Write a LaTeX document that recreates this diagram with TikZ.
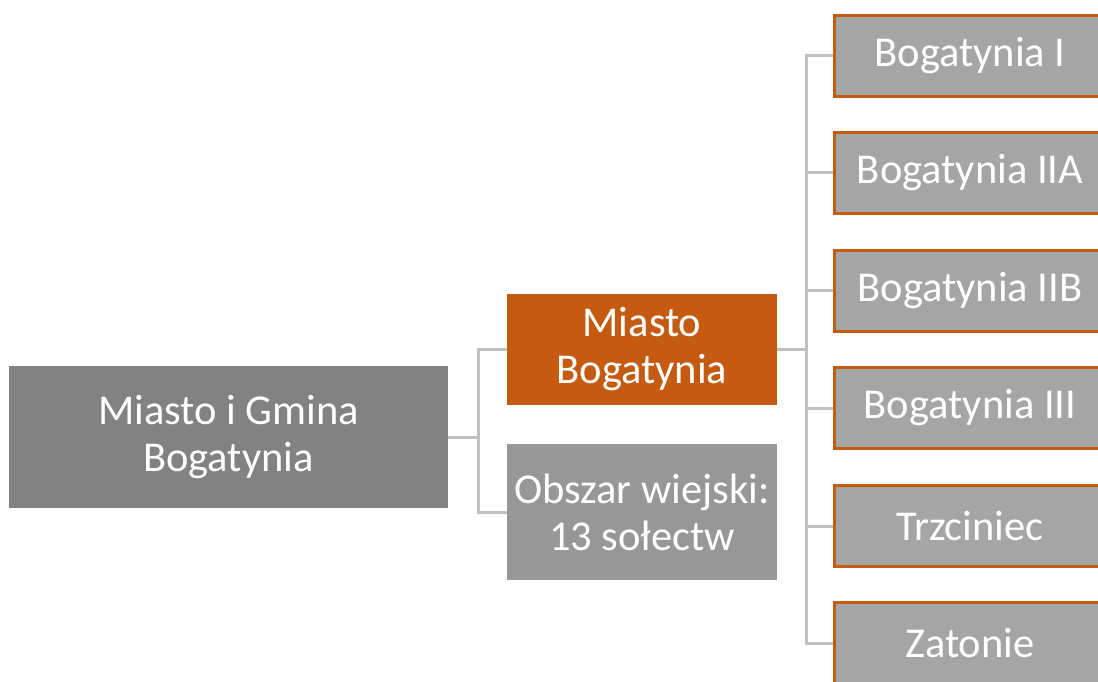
\documentclass[tikz,border=0pt]{standalone}
\usepackage{fontspec}
\setmainfont{Carlito}
\definecolor{rootgray}{HTML}{828282}
\definecolor{midgray}{HTML}{979797}
\definecolor{leafgray}{HTML}{A5A5A5}
\definecolor{orng}{HTML}{C55A11}
\definecolor{conngray}{HTML}{BFBFBF}
\begin{document}
\begin{tikzpicture}[x=1pt,y=-1pt,
  box/.style={rectangle, inner sep=0pt, text=white, align=center,
    font=\fontsize{42.5}{47}\selectfont},
  rootbox/.style={box, fill=rootgray, minimum width=439pt, minimum height=142pt},
  midbox/.style={box, minimum width=270pt},
  leafbox/.style={box, fill=leafgray, draw=orng, line width=3pt,
    minimum width=271pt, minimum height=81pt},
  conn/.style={draw=conngray, line width=3pt}]
\useasboundingbox (0,0) rectangle (1098,682);
\clip (0,0) rectangle (1098,682);
\node[rootbox] (root) at (228.5,437) {Miasto i Gmina\\Bogatynia};
\node[midbox, fill=orng, minimum height=111pt] (mb) at (642,349.5) {Miasto\\Bogatynia};
\node[midbox, fill=midgray, minimum height=136pt] (ob) at (642,512) {Obszar wiejski:\\13 sołectw};
\node[leafbox] (c1) at (970,56) {Bogatynia I};
\node[leafbox] (c2) at (970,173) {Bogatynia IIA};
\node[leafbox] (c3) at (970,290.5) {Bogatynia IIB};
\node[leafbox] (c4) at (970,408) {Bogatynia III};
\node[leafbox] (c5) at (970,526) {Trzciniec};
\node[leafbox] (c6) at (970,643) {Zatonie};
\draw[conn] (root.east) -- ++(30,0) |- (mb.west);
\draw[conn] (root.east) -- ++(30,0) |- (ob.west);
\foreach \c in {c1,c2,c3,c4,c5,c6}
  \draw[conn] (mb.east) -- ++(29,0) |- (\c.west);
\end{tikzpicture}
\end{document}
